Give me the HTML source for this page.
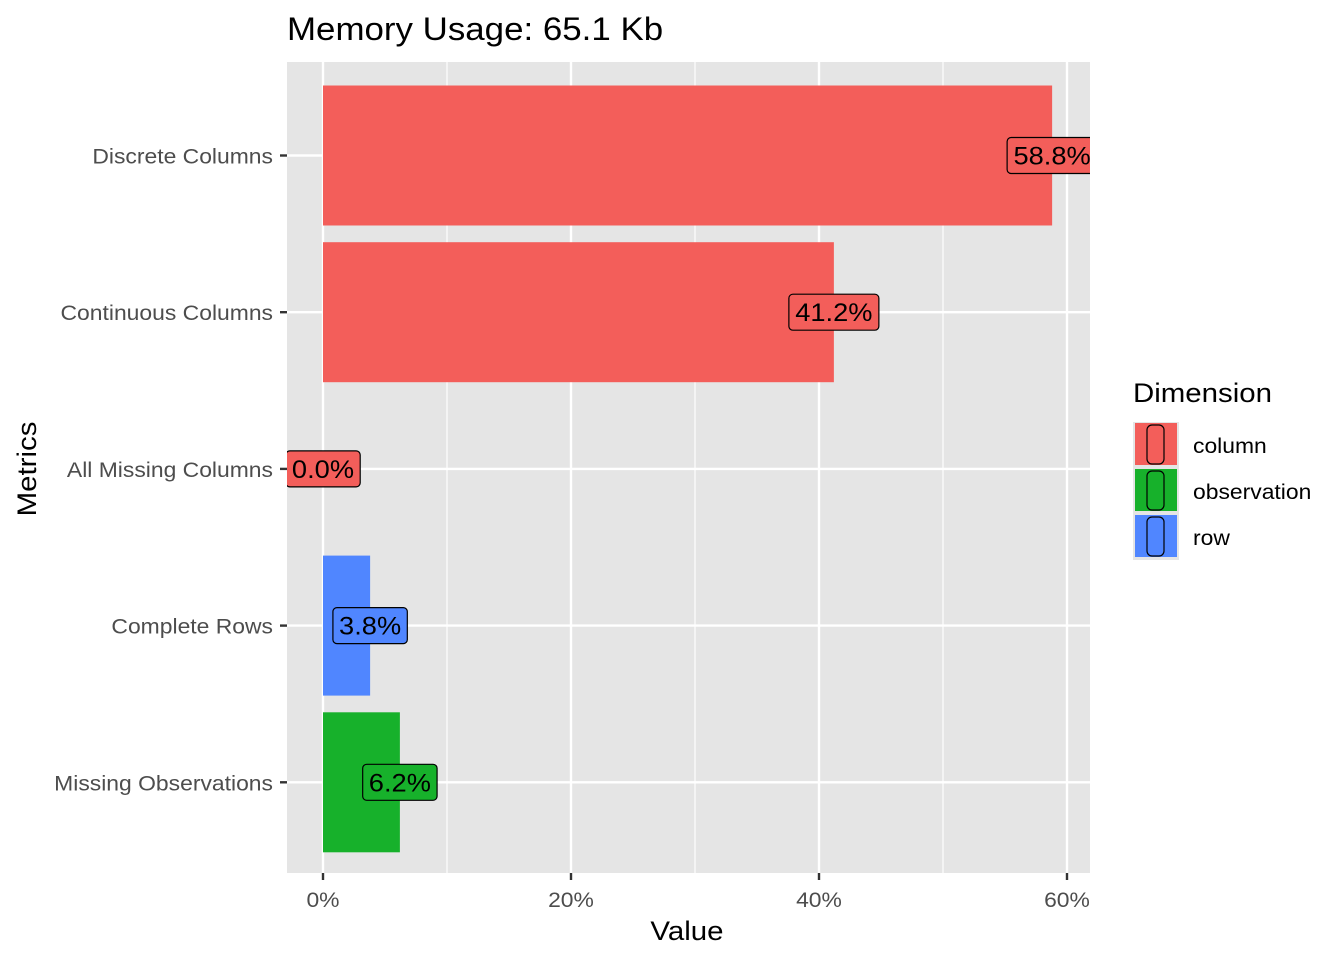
<!DOCTYPE html>
<html><head><meta charset="utf-8"><style>
body{margin:0;background:#fff;}
svg text{font-family:"Liberation Sans",Arial,sans-serif;}
</style></head><body>
<svg id="c" width="1344" height="960" xmlns="http://www.w3.org/2000/svg">
<defs><clipPath id="pc"><rect x="287" y="62" width="803" height="811"/></clipPath></defs>
<text class="s" x="287" y="40" font-size="32" fill="#000">Memory Usage: 65.1 Kb</text>
<rect x="287" y="62" width="803" height="811" fill="#e5e5e5"/>
<g id="grid"></g><g id="bars" clip-path="url(#pc)"></g><g id="axes"></g>
<text class="s" x="687" y="940" font-size="27" text-anchor="middle">Value</text>
<text class="s" transform="translate(36,469) rotate(-90)" font-size="27" text-anchor="middle">Metrics</text>
<g>
<text class="s" x="1133" y="402" font-size="27">Dimension</text>
<g id="legend"></g>
</g>
</svg>
<script>
const categories=["Discrete Columns","Continuous Columns","All Missing Columns","Complete Rows","Missing Observations"];
const values=[58.8,41.2,0.0,3.8,6.2];
const dims=["column","column","column","row","observation"];
const labels=["58.8%","41.2%","0.0%","3.8%","6.2%"];
const xTicks=[0,20,40,60];
const xTickLabels=["0%","20%","40%","60%"];
const legendNames=["column","observation","row"];
const colors={column:"#F35E5A",observation:"#17B12B",row:"#5086FF"};
const NS="http://www.w3.org/2000/svg";
const x=v=>323+v*(1067-323)/60;
const y=i=>155.5+i*156.7;
function mk(tag,attrs,parent,txt){const e=document.createElementNS(NS,tag);for(const k in attrs)e.setAttribute(k,attrs[k]);if(txt!==undefined){e.textContent=txt;e.setAttribute('class','s');}parent.appendChild(e);return e;}
const grid=document.getElementById('grid'),bars=document.getElementById('bars'),axes=document.getElementById('axes'),leg=document.getElementById('legend');
for(let t=10;t<60;t+=20){const l=mk('line',{x1:x(t),x2:x(t),y1:62,y2:873,stroke:'#fff','stroke-width':1.2},grid);}
xTicks.forEach((t,i)=>{const l=mk('line',{x1:x(t),x2:x(t),y1:62,y2:873,stroke:'#fff','stroke-width':2.4},grid);
const tk=mk('line',{x1:x(t),x2:x(t),y1:873,y2:880,stroke:'#333','stroke-width':2.4},axes);
const tl=mk('text',{x:x(t),y:907,'font-size':21,'text-anchor':'middle',fill:'#4d4d4d'},axes,xTickLabels[i]);});
categories.forEach((c,i)=>{const g=mk('line',{x1:287,x2:1090,y1:y(i),y2:y(i),stroke:'#fff','stroke-width':2.4},grid);
const tk=mk('line',{x1:280,x2:287,y1:y(i),y2:y(i),stroke:'#333','stroke-width':2.4},axes);
const tl=mk('text',{x:273,y:y(i)+8,'font-size':21,'text-anchor':'end',fill:'#4d4d4d'},axes,c);
const col=colors[dims[i]];
const b=mk('rect',{x:x(0),y:y(i)-70,width:x(values[i])-x(0),height:140,fill:col},bars);
const w=labels[i].length*15.6+12;
const r=mk('rect',{x:x(values[i])-w/2,y:y(i)-18,width:w,height:36,rx:4,fill:col,stroke:'#000','stroke-width':1.2},bars);
const t=mk('text',{x:x(values[i]),y:y(i)+9,'font-size':25,'text-anchor':'middle'},bars,labels[i]);});
legendNames.forEach((n,i)=>{const ky=422+i*46;
const bg=mk('rect',{x:1133,y:ky,width:46,height:46,fill:'#e5e5e5'},leg);
const k=mk('rect',{x:1135,y:ky+1,width:42,height:42,fill:colors[n]},leg);
const ir=mk('rect',{x:1147,y:ky+3,width:17,height:39,rx:5,fill:'none',stroke:'#000','stroke-width':1.2},leg);
const t=mk('text',{x:1193,y:ky+31,'font-size':21},leg,n);});
document.querySelectorAll('text.s').forEach(t=>{const L=t.getComputedTextLength();if(L>0){t.setAttribute('textLength',L*1.09);t.setAttribute('lengthAdjust','spacingAndGlyphs');}});
</script>
</body></html>
